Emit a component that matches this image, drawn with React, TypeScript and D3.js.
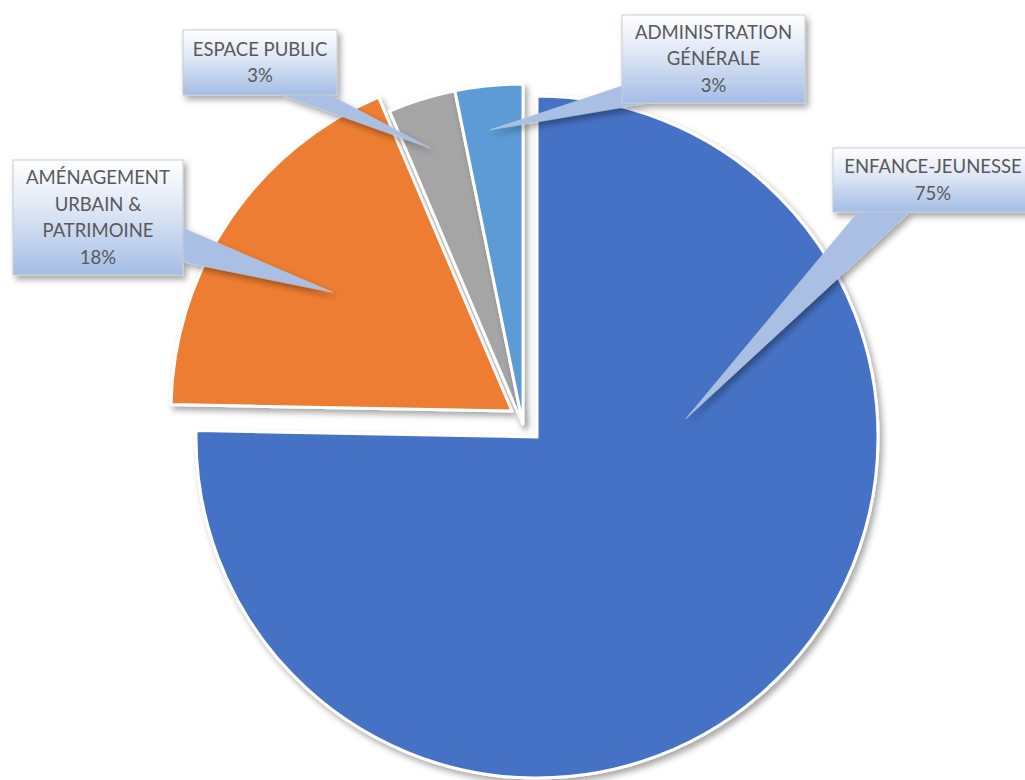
// @ts-nocheck
import { FC, useEffect, useRef } from "react";
import * as d3 from "d3";

const categories = [
  "ENFANCE-JEUNESSE",
  "AMÉNAGEMENT URBAIN & PATRIMOINE",
  "ESPACE PUBLIC",
  "ADMINISTRATION GÉNÉRALE",
];
const values = [75.3, 18.3, 3.2, 3.2];
const labelLines = [
  ["ENFANCE-JEUNESSE", "75%"],
  ["AMÉNAGEMENT", "URBAIN &", "PATRIMOINE", "18%"],
  ["ESPACE PUBLIC", "3%"],
  ["ADMINISTRATION", "GÉNÉRALE", "3%"],
];
const colors = ["#4472C4", "#ED7D31", "#A5A5A5", "#5B9BD5"];

const App: FC = () => {
  const ref = useRef();
  const W = 1025;
  const H = 780;

  useEffect(() => {
    const svg = d3.select(ref.current);
    svg.selectAll("*").remove();

    const cx = 537;
    const cy = 437;
    const r = 341;
    // explode offsets (up-left) for each slice
    const explode = [
      [0, 0],
      [-25, -26],
      [-14, -12],
      [-14, -12],
    ];

    const defs = svg.append("defs");
    const shadow = defs
      .append("filter")
      .attr("id", "shadow")
      .attr("x", "-20%")
      .attr("y", "-20%")
      .attr("width", "140%")
      .attr("height", "140%");
    shadow
      .append("feDropShadow")
      .attr("dx", 3)
      .attr("dy", 4)
      .attr("stdDeviation", 3)
      .attr("flood-color", "#000")
      .attr("flood-opacity", 0.35);

    const grad = defs
      .append("linearGradient")
      .attr("id", "boxGrad")
      .attr("x1", 0)
      .attr("y1", 0)
      .attr("x2", 0)
      .attr("y2", 1);
    grad.append("stop").attr("offset", "0%").attr("stop-color", "#ffffff");
    grad.append("stop").attr("offset", "40%").attr("stop-color", "#e1e9f6");
    grad.append("stop").attr("offset", "100%").attr("stop-color", "#a4bde5");

    const pie = d3
      .pie()
      .sort(null)
      .value((d) => d)
      .startAngle(0)
      .endAngle(2 * Math.PI);
    const arcs = pie(values);
    const arc = d3.arc().innerRadius(0).outerRadius(r);

    const pieG = svg.append("g");
    pieG
      .selectAll("path.slice")
      .data(arcs)
      .join("path")
      .attr("class", "slice")
      .attr(
        "transform",
        (d, i) => `translate(${cx + explode[i][0]},${cy + explode[i][1]})`
      )
      .attr("d", arc)
      .attr("fill", (d, i) => colors[i])
      .attr("stroke", "#fff")
      .attr("stroke-width", 3)
      .attr("stroke-linejoin", "miter")
      .attr("filter", "url(#shadow)");

    // callout boxes: box rect, pointer base points, target (angle, radius) in slice
    const callouts = [
      { x: 833, y: 148, w: 200, h: 64, base: [[858, 212], [910, 212]], ang: 83, rad: 150 },
      { x: 13, y: 160, w: 170, h: 115, base: [[183, 228], [183, 262]], ang: 303.5, rad: 215 },
      { x: 183, y: 30, w: 154, h: 65, base: [[282, 95], [330, 95]], ang: 341.5, rad: 292 },
      { x: 622, y: 15, w: 183, h: 88, base: [[622, 86], [648, 103]], ang: 353.6, rad: 297 },
    ];

    const labelG = svg.append("g");
    callouts.forEach((c, i) => {
      const a = (c.ang * Math.PI) / 180;
      const tx = cx + explode[i][0] + c.rad * Math.sin(a);
      const ty = cy + explode[i][1] - c.rad * Math.cos(a);
      const g = labelG.append("g").attr("filter", "url(#shadow)");
      g.append("path")
        .attr("d", d3.line()([c.base[0], [tx, ty], c.base[1]]))
        .attr("fill", "#a9c0e4")
        .attr("stroke", "#b9c6d8")
        .attr("stroke-width", 0.6);
      g.append("rect")
        .attr("x", c.x)
        .attr("y", c.y)
        .attr("width", c.w)
        .attr("height", c.h)
        .attr("fill", "url(#boxGrad)")
        .attr("stroke", "#c8ccd2")
        .attr("stroke-width", 1);

      const lines = labelLines[i];
      const lh = 26.5;
      const top = c.y + c.h / 2 - ((lines.length - 1) * lh) / 2;
      labelG
        .append("text")
        .attr("text-anchor", "middle")
        .attr("font-family", "Lato, 'Open Sans', sans-serif")
        .attr("font-size", 18.5)
        .attr("fill", "#595959")
        .selectAll("tspan")
        .data(lines)
        .join("tspan")
        .attr("x", c.x + c.w / 2)
        .attr("y", (d, j) => top + j * lh)
        .attr("dy", "0.35em")
        .text((d) => d);
    });
  }, []);

  return (
    <svg
      ref={ref}
      width={W}
      height={H}
      style={{ position: "absolute", left: 0, top: 0, background: "#fff" }}
    />
  );
};

export default App;
